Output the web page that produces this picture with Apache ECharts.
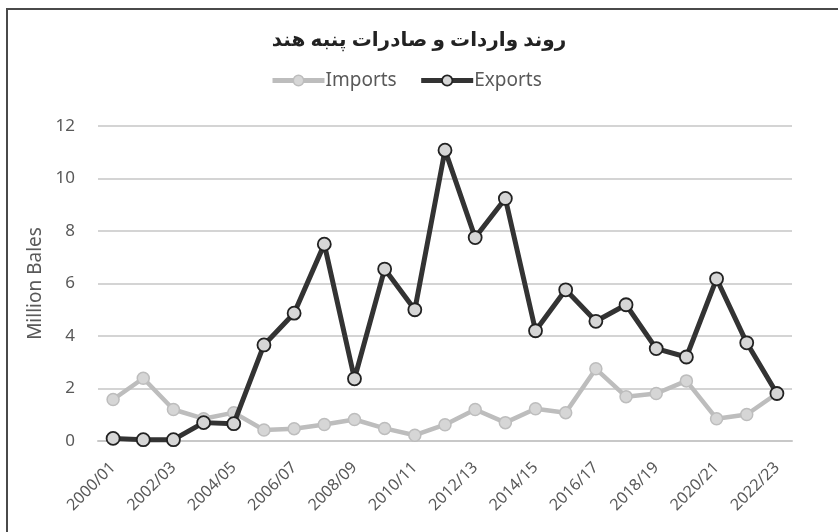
<!DOCTYPE html>
<html>
<head>
<meta charset="utf-8">
<script src="https://cdn.jsdelivr.net/npm/echarts@6/dist/echarts.min.js"></script>
<style>
html,body{margin:0;padding:0;background:#fff;}
#c{width:838px;height:532px;}
</style>
</head>
<body>
<div id="c"></div>
<script>
const categories = ["2000/01","2001/02","2002/03","2003/04","2004/05","2005/06","2006/07","2007/08","2008/09","2009/10","2010/11","2011/12","2012/13","2013/14","2014/15","2015/16","2016/17","2017/18","2018/19","2019/20","2020/21","2021/22","2022/23"];
const imports = [1.58,2.39,1.2,0.85,1.08,0.42,0.47,0.63,0.82,0.48,0.22,0.62,1.2,0.7,1.23,1.08,2.75,1.69,1.81,2.29,0.85,1.01,1.81];
const exports_ = [0.1,0.05,0.05,0.7,0.66,3.66,4.87,7.5,2.37,6.55,5.0,11.08,7.75,9.24,4.2,5.76,4.56,5.19,3.52,3.2,6.18,3.74,1.81];
const yTicks = {min:0, max:12, interval:2};
const titleText = "روند واردات و صادرات پنبه هند";

const chart = echarts.init(document.getElementById('c'), null, {renderer:'canvas'});
const font = "'Noto Sans', 'DejaVu Sans', sans-serif";
chart.setOption({
  animation:false,
  backgroundColor:'#fff',
  textStyle:{fontFamily:font},
  graphic:[{type:'rect', shape:{x:7, y:9, width:900, height:600}, style:{fill:'none', stroke:'#4a4a4a', lineWidth:2}, silent:true}],
  title:{text:titleText, left:'center', top:25, textStyle:{fontFamily:font, fontSize:20, fontWeight:'bold', color:'#222'}},
  legend:{top:66, left:265, itemWidth:52, itemHeight:13, itemGap:22,
    textStyle:{fontSize:19, color:'#595959', fontFamily:font, padding:[0,0,0,-4]},
    data:[
      {name:'Imports', lineStyle:{color:'#bdbdbd', width:5}, itemStyle:{color:'#d6d6d6', borderColor:'#bdbdbd', borderWidth:1.5}},
      {name:'Exports', lineStyle:{color:'#333333', width:5}, itemStyle:{color:'#d6d6d6', borderColor:'#222', borderWidth:1.8}}
    ]},
  grid:{left:98, right:46, top:126, bottom:91},
  xAxis:{type:'category', data:categories, boundaryGap:true,
    axisLine:{lineStyle:{color:'#c8c8c8', width:2}}, axisTick:{show:false},
    axisLabel:{interval:1, rotate:45, fontSize:16, color:'#595959', margin:24, fontFamily:font}},
  yAxis:{type:'value', min:yTicks.min, max:yTicks.max, interval:yTicks.interval,
    name:'Million Bales', nameLocation:'middle', nameGap:53,
    nameTextStyle:{fontSize:19, color:'#595959', fontFamily:font},
    axisLine:{show:false}, axisTick:{show:false},
    axisLabel:{fontSize:17, color:'#595959', margin:23, fontFamily:font},
    splitLine:{lineStyle:{color:'#d4d4d4', width:2}}},
  series:[
    {name:'Imports', type:'line', data:imports, symbol:'circle', symbolSize:12,
      lineStyle:{color:'#bdbdbd', width:4.5}, itemStyle:{color:'#d6d6d6', borderColor:'#bdbdbd', borderWidth:1.5}, z:2},
    {name:'Exports', type:'line', data:exports_, symbol:'circle', symbolSize:13,
      lineStyle:{color:'#333333', width:5}, itemStyle:{color:'#d6d6d6', borderColor:'#222', borderWidth:1.8}, z:3}
  ]
});
</script>
</body>
</html>
